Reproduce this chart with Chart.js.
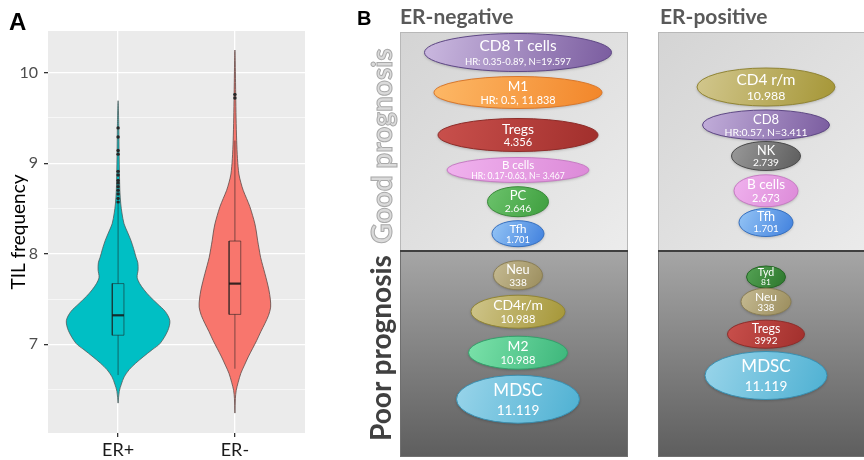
<!DOCTYPE html>
<html>
<head>
<meta charset="utf-8">
<script src="https://cdn.jsdelivr.net/npm/chart.js@4.4.1/dist/chart.umd.min.js"></script>
<style>
    body { margin: 0; background: #fff; }
    #page { position: relative; width: 864px; height: 460px; overflow: hidden; font-family: Lato, sans-serif; }
    .holder { position: absolute; top: 0; height: 460px; }
    .lbl { position: absolute; white-space: nowrap; line-height: 1; }
    .vert { transform: translate(-50%, -50%) rotate(-90deg); font: bold 28px Lato, sans-serif; }
</style>
</head>
<body>
<div id="page">
    <div class="holder" style="left:0;width:360px"><canvas id="violinChart"></canvas></div>
    <div class="holder" style="left:360px;width:504px"><canvas id="cellChart"></canvas></div>
    <div class="lbl" style="left:9px;top:8px;font:bold 24px 'Liberation Sans',Arial,sans-serif">A</div>
    <div class="lbl" style="left:357px;top:7px;font:bold 20px 'Liberation Sans',Arial,sans-serif">B</div>
    <div class="lbl" style="left:400px;top:3px;font:bold 21px Lato,sans-serif;color:#595959">ER-negative</div>
    <div class="lbl" style="left:660px;top:3px;font:bold 21px Lato,sans-serif;color:#595959">ER-positive</div>
    <div class="lbl vert" style="left:381px;top:146px;color:#DADADA;-webkit-text-stroke:1px #A9A9A9">Good prognosis</div>
    <div class="lbl vert" style="left:380px;top:348px;color:#404040">Poor prognosis</div>
</div>
<script>
// ---- Panel A: violin data (TIL frequency) ----
const groups = ["ER+", "ER-"];
const yTicks = [6.5, 7, 7.5, 8, 8.5, 9, 9.5, 10];

// density outline: y value and half width (in x units)
const erPosY  = [6.35, 6.48, 6.56, 6.64, 6.72, 6.79, 6.86, 6.94, 7.01, 7.15, 7.26, 7.36, 7.45, 7.53, 7.60, 7.67, 7.74, 7.82, 7.90, 7.96, 8.06, 8.15, 8.24, 8.33, 8.45, 8.55, 8.70, 9.07, 9.40, 9.69];
const erPosHW = [0, 0.010, 0.028, 0.052, 0.095, 0.150, 0.214, 0.292, 0.360, 0.425, 0.443, 0.405, 0.334, 0.270, 0.223, 0.185, 0.163, 0.171, 0.169, 0.154, 0.132, 0.109, 0.080, 0.051, 0.033, 0.023, 0.015, 0.009, 0.006, 0];
const erNegY  = [6.24, 6.40, 6.49, 6.58, 6.68, 6.77, 6.86, 6.95, 7.04, 7.14, 7.23, 7.32, 7.41, 7.50, 7.60, 7.69, 7.78, 7.87, 7.96, 8.06, 8.15, 8.24, 8.33, 8.42, 8.52, 8.61, 8.70, 8.79, 8.88, 9.05, 9.25, 9.50, 9.75, 10.25];
const erNegHW = [0, 0.004, 0.011, 0.028, 0.051, 0.082, 0.114, 0.150, 0.186, 0.222, 0.257, 0.288, 0.306, 0.303, 0.291, 0.275, 0.257, 0.238, 0.220, 0.206, 0.194, 0.184, 0.171, 0.152, 0.128, 0.100, 0.071, 0.050, 0.034, 0.022, 0.015, 0.010, 0.007, 0];

// box plot stats per group
const whiskerLow  = [6.66, 6.73];
const quart1      = [7.10, 7.33];
const medians     = [7.32, 7.67];
const quart3      = [7.67, 8.14];
const whiskerHigh = [8.55, 9.25];
const outliersErPos = [8.57, 8.61, 8.66, 8.70, 8.74, 8.78, 8.81, 8.87, 8.91, 9.10, 9.14, 9.29, 9.39];
const outliersErNeg = [9.72, 9.76];

// ---- Panel B: cell types by prognosis ----
const columns = ["ER-negative", "ER-positive"];

const negGoodNames  = ["CD8 T cells", "M1", "Tregs", "B cells", "PC", "Tfh"];
const negGoodStats  = ["HR: 0.35-0.89, N=19.597", "HR: 0.5, 11.838", "4.356", "HR: 0.17-0.63, N= 3.467", "2.646", "1.701"];
const negGoodLevel  = [5.25, 9.25, 13.5, 17.0, 20.17, 23.37];
const negGoodWidth  = [18.7, 16.8, 16.0, 14.2, 6.1, 5.2];
const negGoodHeight = [3.8, 3.2, 3.3, 2.5, 3.0, 2.6];

const negPoorNames  = ["Neu", "CD4r/m", "M2", "MDSC"];
const negPoorStats  = ["338", "10.988", "10.988", "11.119"];
const negPoorLevel  = [27.53, 31.17, 35.27, 39.92];
const negPoorWidth  = [4.9, 9.4, 9.9, 12.3];
const negPoorHeight = [2.9, 3.3, 3.3, 4.8];

const posGoodNames  = ["CD4 r/m", "CD8", "NK", "B cells", "Tfh"];
const posGoodStats  = ["10.988", "HR:0.57, N=3.411", "2.739", "2.673", "1.701"];
const posGoodLevel  = [8.7, 12.5, 15.6, 19.08, 22.25];
const posGoodWidth  = [13.8, 12.7, 6.9, 6.4, 5.4];
const posGoodHeight = [3.8, 3.0, 2.9, 3.2, 2.8];

const posPoorNames  = ["Tyd", "Neu", "Tregs", "MDSC"];
const posPoorStats  = ["81", "338", "3992", "11.119"];
const posPoorLevel  = [27.7, 30.17, 33.42, 37.55];
const posPoorWidth  = [3.9, 5.0, 7.7, 12.2];
const posPoorHeight = [2.2, 2.7, 2.8, 4.8];

// colours: [light, dark, border]
const cellColours = {
    "CD8 T cells": ["#CBB9E0", "#7A5C9F", "#5E4785"],
    "CD8":         ["#C2AEDA", "#7A5C9F", "#5E4785"],
    "M1":          ["#FDB866", "#F2862A", "#D9772A"],
    "Tregs":       ["#C9504C", "#A12F2C", "#8E2D2A"],
    "B cells":     ["#F0B2EE", "#DC8AD8", "#C77CC4"],
    "PC":          ["#6CC36C", "#3E9E3E", "#3A8A3A"],
    "Tfh":         ["#96C6F6", "#3F7FDD", "#3670C0"],
    "Neu":         ["#C6BB93", "#9A8C5C", "#8A7E55"],
    "CD4r/m":      ["#CFC58C", "#A59636", "#918535"],
    "CD4 r/m":     ["#D2C78E", "#A59636", "#918535"],
    "M2":          ["#7BE2AA", "#3DB67B", "#35A06C"],
    "MDSC":        ["#9AD5EA", "#4DB0D2", "#3A8FB0"],
    "NK":          ["#9A9A9A", "#5C5C5C", "#4A4A4A"],
    "Tyd":         ["#55A355", "#2C762C", "#276827"]
};

// ---------- Panel A chart ----------
function violinPath(center, ys, hw) {
    const right = ys.map((y, i) => ({ x: center + hw[i], y: y }));
    const left = ys.map((y, i) => ({ x: center - hw[i], y: y })).reverse();
    return right.concat(left.slice(1));
}

function boxPath(center, lo, hi) {
    const bw = 0.05;
    return [
        { x: center - bw, y: lo }, { x: center + bw, y: lo },
        { x: center + bw, y: hi }, { x: center - bw, y: hi },
        { x: center - bw, y: lo }
    ];
}

const lineSet = (data, colour, width) => ({
    data: data, showLine: true, borderColor: colour, borderWidth: width,
    pointRadius: 0, fill: false, tension: 0
});

const violinSets = [];
groups.forEach((g, i) => {
    const c = i + 1;
    violinSets.push(lineSet([{ x: c - 0.05, y: medians[i] }, { x: c + 0.05, y: medians[i] }], "rgba(20,20,20,0.85)", 2.2));
    violinSets.push(lineSet(boxPath(c, quart1[i], quart3[i]), "rgba(30,30,30,0.55)", 1));
    violinSets.push(lineSet([{ x: c, y: whiskerLow[i] }, { x: c, y: quart1[i] }], "rgba(30,30,30,0.55)", 1));
    violinSets.push(lineSet([{ x: c, y: quart3[i] }, { x: c, y: whiskerHigh[i] }], "rgba(30,30,30,0.55)", 1));
});
violinSets.unshift({
    data: outliersErPos.map(v => ({ x: 1, y: v })).concat(outliersErNeg.map(v => ({ x: 2, y: v }))),
    pointRadius: 1.7, pointBackgroundColor: "#262626", pointBorderWidth: 0, showLine: false
});
violinSets.push({
    data: violinPath(1, erPosY, erPosHW), showLine: true, fill: "shape",
    backgroundColor: "#00BFC4", borderColor: "#4F5B5B", borderWidth: 0.8, pointRadius: 0, tension: 0.3
});
violinSets.push({
    data: violinPath(2, erNegY, erNegHW), showLine: true, fill: "shape",
    backgroundColor: "#F8766D", borderColor: "#5E4A48", borderWidth: 0.8, pointRadius: 0, tension: 0.3
});

const panelBg = {
    id: "panelBg",
    beforeDraw(chart) {
        const a = chart.chartArea, ctx = chart.ctx;
        ctx.save();
        ctx.fillStyle = "#EBEBEB";
        ctx.fillRect(a.left, a.top, a.right - a.left, a.bottom - a.top);
        ctx.restore();
    }
};

new Chart(document.getElementById("violinChart"), {
    type: "scatter",
    data: { datasets: violinSets },
    plugins: [panelBg],
    options: {
        responsive: true,
        maintainAspectRatio: false,
        animation: false,
        layout: { padding: { top: 31, right: 55, left: 0, bottom: 0 } },
        plugins: { legend: { display: false }, tooltip: { enabled: false } },
        scales: {
            x: {
                min: 0.4, max: 2.6,
                afterBuildTicks: s => { s.ticks = groups.map((g, i) => ({ value: i + 1 })); },
                afterFit: s => { s.height = 27; },
                ticks: {
                    callback: v => groups[Math.round(v) - 1],
                    color: "#1A1A1A", font: { family: "Lato", size: 18 }, padding: 2, maxRotation: 0
                },
                grid: { color: "#FFFFFF", lineWidth: 1.3, tickColor: "#333333", tickLength: 4 },
                border: { display: false }
            },
            y: {
                min: 6.02, max: 10.46,
                afterBuildTicks: s => { s.ticks = yTicks.map(v => ({ value: v })); },
                afterFit: s => { s.width = 48; },
                ticks: {
                    callback: v => Number.isInteger(v) ? String(v) : "",
                    color: "#4D4D4D", font: { family: "Lato", size: 16 }, padding: 6
                },
                grid: {
                    color: "#FFFFFF",
                    lineWidth: c => (c.tick && Number.isInteger(c.tick.value)) ? 1.3 : 0.6,
                    tickColor: c => (c.tick && Number.isInteger(c.tick.value)) ? "#333333" : "rgba(0,0,0,0)",
                    tickLength: 4
                },
                border: { display: false },
                title: {
                    display: true, text: "TIL frequency", color: "#000000",
                    font: { family: "Lato", size: 19 }, padding: { top: 7, bottom: 0 }
                }
            }
        }
    }
});

// ---------- Panel B chart ----------
const colStep = 24.8;
function cellSet(col, names, stats, level, width, height) {
    return {
        data: names.map((n, i) => ({ x: col * colStep, y: level[i], w: width[i], h: height[i], name: n, stat: stats[i] })),
        pointRadius: 0, showLine: false
    };
}

const sectionBg = {
    id: "sectionBg",
    beforeDatasetsDraw(chart) {
        const xs = chart.scales.x, ys = chart.scales.y, ctx = chart.ctx;
        const top = ys.getPixelForValue(3.2), mid = ys.getPixelForValue(25.1), bottom = ys.getPixelForValue(45.7);
        columns.forEach((c, i) => {
            const l = xs.getPixelForValue(-11.8 + i * 25.8), r = xs.getPixelForValue(11.0 + i * 25.8);
            ctx.save();
            let g = ctx.createLinearGradient(l, top, r, mid);
            g.addColorStop(0, "#D4D4D4");
            g.addColorStop(1, "#ECECEC");
            ctx.fillStyle = g;
            ctx.fillRect(l, top, r - l, mid - top);
            ctx.strokeStyle = "#B8B8B8";
            ctx.lineWidth = 1;
            ctx.strokeRect(l + 0.5, top + 0.5, r - l - 1, mid - top);
            g = ctx.createLinearGradient(0, mid, 0, bottom);
            g.addColorStop(0, "#A6A6A6");
            g.addColorStop(1, "#5E5E5E");
            ctx.fillStyle = g;
            ctx.fillRect(l, mid, r - l, bottom - mid);
            ctx.strokeStyle = "#707070";
            ctx.strokeRect(l + 0.5, mid, r - l - 1, bottom - mid - 0.5);
            ctx.strokeStyle = "#404040";
            ctx.lineWidth = 2;
            ctx.beginPath();
            ctx.moveTo(l, mid);
            ctx.lineTo(r, mid);
            ctx.stroke();
            ctx.restore();
        });
    }
};

function fitFont(ctx, text, size, maxW) {
    let s = size;
    ctx.font = s + "px Lato";
    while (s > 6 && ctx.measureText(text).width > maxW) {
        s -= 0.25;
        ctx.font = s + "px Lato";
    }
    return s;
}

const cellEllipses = {
    id: "cellEllipses",
    afterDatasetsDraw(chart) {
        const xs = chart.scales.x, ys = chart.scales.y, ctx = chart.ctx;
        chart.data.datasets.forEach(ds => {
            ds.data.forEach(d => {
                const cx = xs.getPixelForValue(d.x), cy = ys.getPixelForValue(d.y);
                const rx = Math.abs(xs.getPixelForValue(d.x + d.w / 2) - cx);
                const ry = Math.abs(ys.getPixelForValue(d.y + d.h / 2) - cy);
                const col = cellColours[d.name];
                ctx.save();
                ctx.shadowColor = "rgba(0,0,0,0.25)";
                ctx.shadowBlur = 3;
                ctx.shadowOffsetY = 1;
                ctx.beginPath();
                ctx.ellipse(cx, cy, rx, ry, 0, 0, Math.PI * 2);
                const g = ctx.createLinearGradient(cx - rx, cy - ry, cx + rx, cy + ry);
                g.addColorStop(0, col[0]);
                g.addColorStop(1, col[1]);
                ctx.fillStyle = g;
                ctx.fill();
                ctx.shadowColor = "rgba(0,0,0,0)";
                ctx.lineWidth = 1;
                ctx.strokeStyle = col[2];
                ctx.stroke();

                ctx.fillStyle = "#FFFFFF";
                ctx.textAlign = "center";
                ctx.textBaseline = "middle";
                const h = ry * 2;
                const ny = cy - h * 0.18, sy = cy + h * 0.24;
                const availN = 2 * rx * Math.sqrt(Math.max(0.1, 1 - Math.pow((ny - cy) / ry, 2))) * 0.85;
                const availS = 2 * rx * Math.sqrt(Math.max(0.1, 1 - Math.pow((sy - cy) / ry, 2))) * 0.9;
                const nSize = fitFont(ctx, d.name, Math.min(17, 4 + h * 0.3), availN);
                ctx.font = nSize + "px Lato";
                ctx.fillText(d.name, cx, ny);
                const sBase = d.stat.length > 16 ? Math.min(9.5, nSize * 0.75) : Math.min(15, nSize * 0.8);
                const sSize = fitFont(ctx, d.stat, sBase, availS);
                ctx.font = sSize + "px Lato";
                ctx.fillText(d.stat, cx, sy);
                ctx.restore();
            });
        });
    }
};

new Chart(document.getElementById("cellChart"), {
    type: "scatter",
    data: {
        datasets: [
            cellSet(0, negGoodNames, negGoodStats, negGoodLevel, negGoodWidth, negGoodHeight),
            cellSet(0, negPoorNames, negPoorStats, negPoorLevel, negPoorWidth, negPoorHeight),
            cellSet(1, posGoodNames, posGoodStats, posGoodLevel, posGoodWidth, posGoodHeight),
            cellSet(1, posPoorNames, posPoorStats, posPoorLevel, posPoorWidth, posPoorHeight)
        ]
    },
    plugins: [sectionBg, cellEllipses],
    options: {
        responsive: true,
        maintainAspectRatio: false,
        animation: false,
        layout: { padding: 0 },
        plugins: { legend: { display: false }, tooltip: { enabled: false } },
        scales: {
            x: { display: false, min: -15.8, max: 34.6 },
            y: { display: false, min: 0, max: 46, reverse: true }
        }
    }
});
</script>
</body>
</html>
